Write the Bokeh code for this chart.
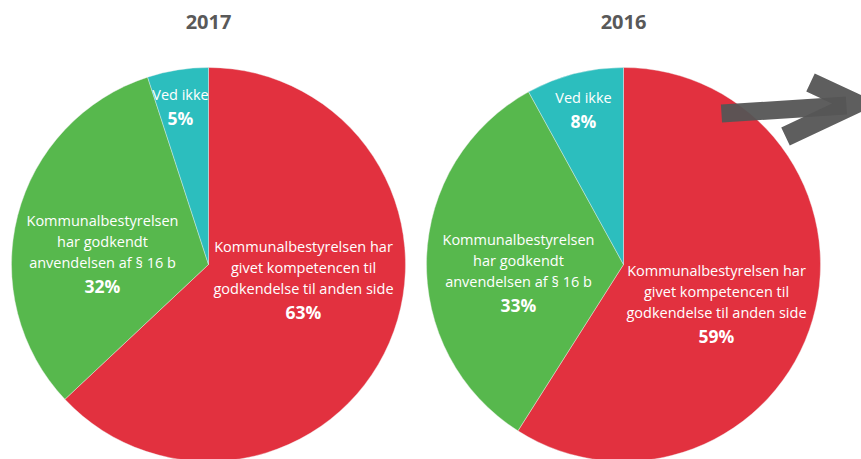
import numpy as np
from bokeh.plotting import figure
from bokeh.models import Range1d, ColumnDataSource
from bokeh.core.properties import value
from bokeh.embed import file_html
from bokeh.resources import INLINE

# ---- data ----
years = ["2017", "2016"]
categories = [
    "Kommunalbestyrelsen har givet kompetencen til godkendelse til anden side",
    "Kommunalbestyrelsen har godkendt anvendelsen af § 16 b",
    "Ved ikke",
]
values_2017 = [63, 32, 5]
values_2016 = [59, 33, 8]
label_lines = [
    ["Kommunalbestyrelsen har", "givet kompetencen til", "godkendelse til anden side"],
    ["Kommunalbestyrelsen", "har godkendt", "anvendelsen af § 16 b"],
    ["Ved ikke"],
]
colors = ["#E2313F", "#57B84D", "#2CBEBE"]

# ---- layout (page pixels) ----
W, H = 861, 459
def Y(page_y):
    return H - page_y

centers = {"2017": (208, 264), "2016": (623, 264)}
radius = 197
# label anchor (center of first line) per year per category, page pixels
label_pos = {
    "2017": [(303, 246), (102, 220), (180, 94)],
    "2016": [(716, 270), (518, 239), (583, 97)],
}
line_gap = 21

p = figure(width=W, height=H, output_backend="svg", toolbar_location=None,
           x_range=Range1d(0, W), y_range=Range1d(0, H),
           min_border=0, outline_line_color=None)
p.axis.visible = False
p.grid.visible = False
p.background_fill_color = "white"
p.border_fill_color = "white"

for year, vals in zip(years, [values_2017, values_2016]):
    cx, cy = centers[year]
    frac = np.array(vals, dtype=float) / sum(vals)
    cum = np.concatenate([[0], np.cumsum(frac)])
    start = np.pi / 2 - cum[:-1] * 2 * np.pi
    end = np.pi / 2 - cum[1:] * 2 * np.pi
    src = ColumnDataSource(dict(x=[cx] * 3, y=[Y(cy)] * 3, start=list(start), end=list(end),
                                color=colors, cat=categories))
    p.wedge(x="x", y="y", radius=radius, start_angle="start", end_angle="end",
            direction="clock", fill_color="color", line_color="#f0f0f0", line_width=0.4,
            source=src)
    # title
    p.text(x=[cx], y=[Y(21)], text=[year], text_font=value("Open Sans"),
           text_font_style="bold", text_font_size="20px", text_color="#595959",
           text_align="center", text_baseline="middle")
    # labels
    for i, lines in enumerate(label_lines):
        lx, ly = label_pos[year][i]
        xs = [lx] * len(lines)
        ys = [Y(ly + k * line_gap) for k in range(len(lines))]
        p.text(x=xs, y=ys, text=lines, text_font=value("Open Sans"),
               text_font_size="14.5px", text_color="white",
               text_align="center", text_baseline="middle")
        p.text(x=[lx], y=[Y(ly + len(lines) * line_gap + 2)], text=[f"{vals[i]}%"],
               text_font=value("Open Sans"), text_font_style="bold",
               text_font_size="17.5px", text_color="white",
               text_align="center", text_baseline="middle")

# decorative hand-drawn arrow overlay
p.line(x=[721, 846], y=[Y(113), Y(105)], line_color="#555555", line_width=18,
       line_cap="butt", line_alpha=0.95)
p.line(x=[810, 855, 785], y=[Y(82), Y(103), Y(136)], line_color="#555555",
       line_width=20, line_cap="butt", line_join="miter", line_alpha=0.95)

open("out.html", "w").write(file_html(p, INLINE))
